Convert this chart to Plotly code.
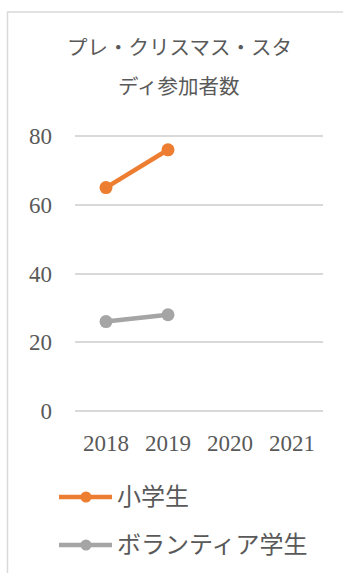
import plotly.graph_objects as go

# Participants per year
years = ["2018", "2019", "2020", "2021"]
elementary = [65, 76, None, None]
volunteers = [26, 28, None, None]
series_names = ["小学生", "ボランティア学生"]
series_colors = ["#ED7D31", "#A5A5A5"]
title_lines = ["プレ・クリスマス・スタ", "ディ参加者数"]
y_ticks = [0, 20, 40, 60, 80]

FONT = "Liberation Serif, Noto Sans CJK JP, serif"
TEXT = "#595959"
GRID = "#D9D9D9"

W, H = 343, 573
L, R, T, B = 75, 20, 135, 161

fig = go.Figure()
for i, (name, vals) in enumerate(zip(series_names, [elementary, volunteers])):
    fig.add_trace(go.Scatter(
        x=years, y=vals, name=name, mode="lines+markers",
        line=dict(color=series_colors[i], width=4.5),
        marker=dict(color=series_colors[i], size=13),
        showlegend=False,
    ))

pw, ph = W - L - R, H - T - B


def px_x(p):
    return (p - L) / pw


def px_y(p):
    return (H - B - p) / ph


# outer chart frame (top and left edges visible)
fig.add_shape(type="rect", xref="paper", yref="paper",
              x0=px_x(7.5), x1=px_x(W + 10), y0=px_y(H + 10), y1=px_y(12),
              line=dict(color=GRID, width=1.5), fillcolor="rgba(0,0,0,0)", layer="below")

for txt, yc in zip(title_lines, [48, 87]):
    fig.add_annotation(text=txt, xref="paper", yref="paper", x=px_x(179), y=px_y(yc),
                       showarrow=False, xanchor="center", yanchor="middle",
                       font=dict(family=FONT, size=20.5, color=TEXT))

# legend: line + marker key with label, one row per series
for i, (name, col) in enumerate(zip(series_names, series_colors)):
    yc = 497 + i * 48
    fig.add_shape(type="line", xref="paper", yref="paper",
                  x0=px_x(59), x1=px_x(112), y0=px_y(yc), y1=px_y(yc),
                  line=dict(color=col, width=4.5))
    fig.add_shape(type="circle", xref="paper", yref="paper",
                  x0=px_x(80.5), x1=px_x(91.5), y0=px_y(yc + 5.5), y1=px_y(yc - 5.5),
                  line=dict(color=col, width=0), fillcolor=col)
    fig.add_annotation(text=name, xref="paper", yref="paper", x=px_x(115), y=px_y(yc),
                       showarrow=False, xanchor="left", yanchor="middle",
                       font=dict(family=FONT, size=24, color=TEXT))

fig.update_layout(
    width=W, height=H, autosize=False,
    margin=dict(l=L, r=R, t=T, b=B, autoexpand=False),
    paper_bgcolor="white", plot_bgcolor="white",
    font=dict(family=FONT, color=TEXT),
    showlegend=False,
    xaxis=dict(type="category", range=[-0.5, 3.5], showgrid=False, showline=False,
               zeroline=False, ticks="", tickfont=dict(family=FONT, size=23, color=TEXT),
               ticklabelstandoff=15, fixedrange=True),
    yaxis=dict(range=[-0.3, 80.3], tickvals=y_ticks, showgrid=True, gridcolor=GRID, gridwidth=1.5,
               zeroline=False, showline=False, ticks="",
               tickfont=dict(family=FONT, size=23, color=TEXT),
               ticklabelstandoff=22, fixedrange=True),
)

fig.write_html("out.html")
